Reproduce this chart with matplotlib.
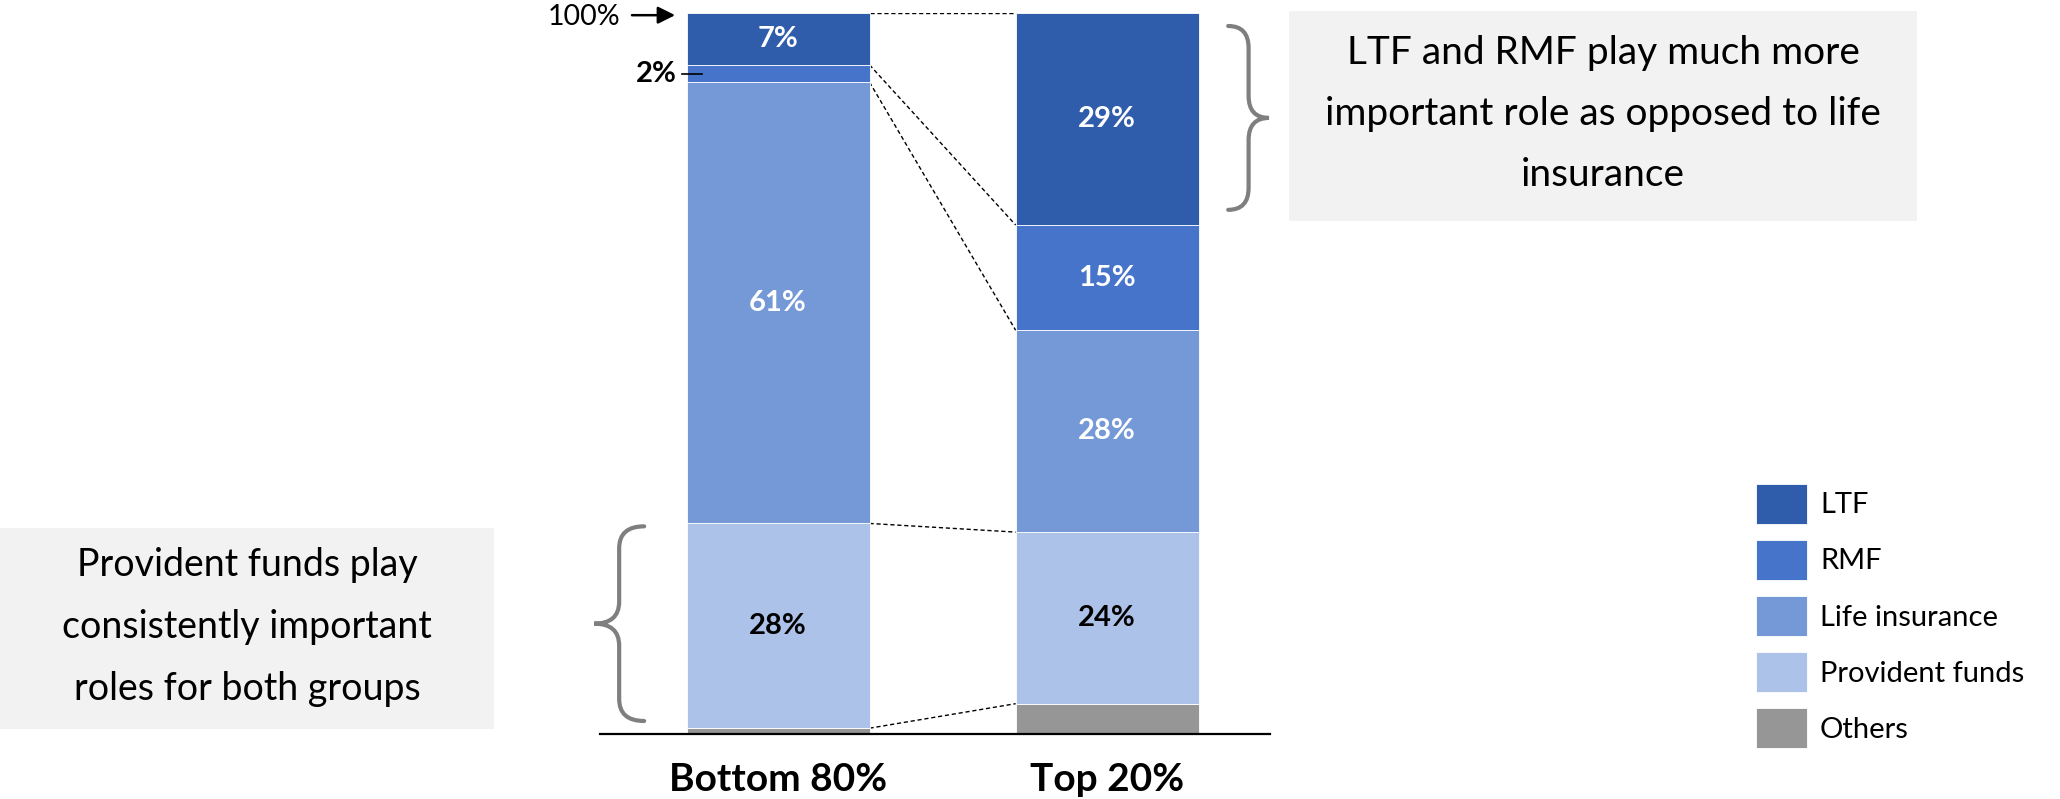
import matplotlib
matplotlib.use("Agg")
import matplotlib.pyplot as plt
from matplotlib.patches import Rectangle, PathPatch
from matplotlib.path import Path
from matplotlib.transforms import IdentityTransform

plt.rcParams["font.family"] = ["Lato", "DejaVu Sans"]

# shares of tax-deductible savings, stacked from bottom to top
grupos = ["Bottom 80%", "Top 20%"]
categorias = ["Others", "Provident funds", "Life insurance", "RMF", "LTF"]
bottom80 = [0.8, 28.4, 61.2, 2.4, 7.2]
top20 = [4.2, 23.8, 28.0, 14.6, 29.4]
colores = ["#969696", "#ADC2E8", "#7599D7", "#4674CB", "#305DAB"]
color_texto = [None, "black", "white", "white", "white"]

nota_izq = "Provident funds play\nconsistently important\nroles for both groups"
nota_der = "LTF and RMF play much more\nimportant role as opposed to life\ninsurance"

fig = plt.figure(figsize=(20.6, 7.99), dpi=100)
ax = fig.add_axes([0.2913, 0.0814, 0.3252, 0.9023])

ancho = 0.556
x = [0, 1]
series = [bottom80, top20]

barras = []
acum = [0.0, 0.0]
bordes = [[0.0], [0.0]]
for i, cat in enumerate(categorias):
    vals = [s[i] for s in series]
    b = ax.bar(x, vals, ancho, bottom=acum, color=colores[i], label=cat,
               edgecolor="white", linewidth=0.6, zorder=2)
    barras.append(b)
    for j in range(2):
        centro = acum[j] + vals[j] / 2
        txt = f"{vals[j]:.0f}%"
        if color_texto[i] is None:
            pass
        elif vals[j] < 4:
            # small slice: label outside with a short leader
            ax.text(x[j] - ancho / 2 - 0.03, centro, txt, ha="right", va="center",
                    fontsize=21, fontweight="bold", color="black")
            ax.plot([x[j] - ancho / 2 - 0.015, x[j] - ancho / 2 + 0.048], [centro, centro],
                    color="black", lw=1.2, zorder=3, clip_on=False)
        else:
            ax.text(x[j], centro, txt, ha="center", va="center",
                    fontsize=21, fontweight="bold", color=color_texto[i], zorder=4)
        acum[j] += vals[j]
        bordes[j].append(acum[j])

# dashed connectors between matching boundaries
for y0, y1 in zip(bordes[0][1:], bordes[1][1:]):
    ax.plot([x[0] + ancho / 2, x[1] - ancho / 2], [y0, y1], color="black",
            lw=1.0, ls=(0, (3, 2)), zorder=1)

ax.set_xlim(-0.541, 1.495)
ax.set_ylim(0, 100)
for lado in ["left", "right", "top"]:
    ax.spines[lado].set_visible(False)
ax.spines["bottom"].set_linewidth(1.6)
ax.set_yticks([])
ax.set_xticks(x)
ax.set_xticklabels(grupos, fontsize=28, fontweight="bold")
ax.tick_params(axis="x", length=0, pad=20)

# 100% marker with arrow
ax.text(-0.48, 98.3, "100%", ha="right", va="baseline", fontsize=20.5)
ax.annotate("", xy=(-0.313, 99.7), xytext=(-0.444, 99.7), annotation_clip=False,
            arrowprops=dict(arrowstyle="-|>", color="black", lw=1.8, mutation_scale=26,
                            shrinkA=0, shrinkB=0))

# grey callout boxes
fig.patches.append(Rectangle((0.0, 0.0876), 0.2398, 0.2516, transform=fig.transFigure,
                             facecolor="#F2F2F2", edgecolor="none", zorder=0))
fig.patches.append(Rectangle((0.6257, 0.7234), 0.3049, 0.2628, transform=fig.transFigure,
                             facecolor="#F2F2F2", edgecolor="none", zorder=0))
fig.text(0.1199, 0.2153, nota_izq, ha="center", va="center", fontsize=27, linespacing=1.9)
fig.text(0.7782, 0.8573, nota_der, ha="center", va="center", fontsize=28, linespacing=1.85)

fig.canvas.draw()


def llave(x_punta, x_fin, y_abajo, y_arriba, r=22):
    # curly brace in display pixels; tip at x_punta, ends pointing to x_fin
    xm = (x_punta + x_fin) / 2
    ym = (y_abajo + y_arriba) / 2
    verts = [
        (x_fin, y_arriba), (xm, y_arriba), (xm, y_arriba - r),
        (xm, ym + r),
        (xm, ym), (x_punta, ym),
        (xm, ym), (xm, ym - r),
        (xm, y_abajo + r),
        (xm, y_abajo), (x_fin, y_abajo),
    ]
    codes = [Path.MOVETO, Path.CURVE3, Path.CURVE3, Path.LINETO,
             Path.CURVE3, Path.CURVE3, Path.CURVE3, Path.CURVE3,
             Path.LINETO, Path.CURVE3, Path.CURVE3]
    p = PathPatch(Path(verts, codes), facecolor="none", edgecolor="#7F7F7F",
                  lw=3, transform=IdentityTransform(), capstyle="round")
    fig.patches.append(p)


def a_px(xd, yd):
    return ax.transData.transform((xd, yd))


# left brace over the provident-fund slice, right brace over the top LTF slice
p0 = a_px(-0.559, 1.8)
p1 = a_px(-0.407, 28.8)
llave(p0[0], p1[0], p0[1], p1[1])
q0 = a_px(1.492, 72.7)
q1 = a_px(1.368, 98.2)
llave(q0[0], q1[0], q0[1], q1[1])

manejadores = barras[::-1]
fig.legend(manejadores, [b.get_label() for b in manejadores], loc="upper left",
           bbox_to_anchor=(0.8524, 0.3942), frameon=False, fontsize=21,
           handlelength=1.75, handleheight=1.72, labelspacing=0.56,
           handletextpad=0.45, borderpad=0, borderaxespad=0)

fig.savefig("out.png", dpi=100)
